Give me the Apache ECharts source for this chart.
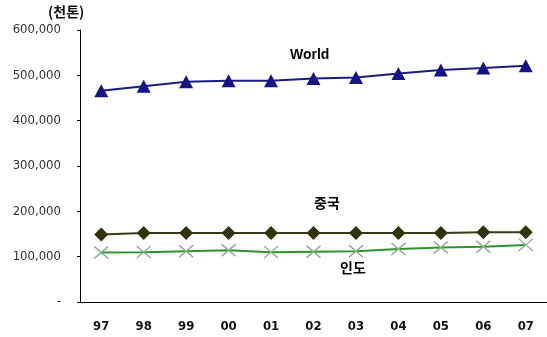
<!DOCTYPE html>
<html><head><meta charset="utf-8">
<script src="https://cdn.jsdelivr.net/npm/echarts@6/dist/echarts.min.js"></script>
<style>html,body{margin:0;padding:0;background:#fff}#c{width:547px;height:337px}</style>
</head><body><div id="c"></div>
<script>
const categories = ['97','98','99','00','01','02','03','04','05','06','07'];
const world = [466000, 476000, 486000, 488000, 488000, 493000, 495000, 504000, 512000, 516000, 521000];
const china = [149000, 152000, 152000, 152000, 152000, 152000, 152000, 152000, 152000, 154000, 154000];
const india = [109000, 110000, 112000, 114000, 110000, 111000, 112000, 117000, 120000, 122000, 126000];
const yTicks = [0, 100000, 200000, 300000, 400000, 500000, 600000];
const unitLabel = '(천톤)';
const seriesNames = ['World', '중국', '인도'];

const chart = echarts.init(document.getElementById('c'));
const numFont = '"Liberation Sans Narrow", "DejaVu Sans Condensed", Arial, sans-serif';
chart.setOption({
  animation: false,
  grid: {left: 80, right: -6, top: 30, bottom: 35},
  xAxis: {
    type: 'category', data: categories, boundaryGap: true,
    axisLine: {lineStyle: {color: '#000', width: 1}},
    axisTick: {inside: true, length: 3, lineStyle: {color: '#000'}},
    axisLabel: {margin: 18, color: '#111', fontSize: 13, fontWeight: 'bold', fontFamily: numFont}
  },
  yAxis: {
    type: 'value', min: yTicks[0], max: yTicks[yTicks.length-1], interval: 100000,
    axisLine: {show: true, lineStyle: {color: '#000', width: 1}},
    axisTick: {show: true, length: 3, lineStyle: {color: '#000'}},
    splitLine: {show: false},
    axisLabel: {margin: 19, color: '#333', fontSize: 13, fontFamily: numFont,
      formatter: v => v === 0 ? '-' : v.toLocaleString('en-US')}
  },
  graphic: [
    {type: 'text', left: 48, top: 5, style: {text: unitLabel, font: 'bold 14px "Noto Sans CJK KR", sans-serif', fill: '#111'}},
    {type: 'text', left: 290, top: 48, style: {text: seriesNames[0], font: 'bold 14px "Liberation Sans", Arial, sans-serif', fill: '#000'}},
    {type: 'text', left: 314, top: 196, style: {text: seriesNames[1], font: 'bold 14px "Noto Sans CJK KR", sans-serif', fill: '#000'}},
    {type: 'text', left: 340, top: 261, style: {text: seriesNames[2], font: 'bold 14px "Noto Sans CJK KR", sans-serif', fill: '#000'}}
  ],
  series: [
    {name: seriesNames[0], type: 'line', data: world, symbol: 'triangle', symbolSize: [14, 13],
      lineStyle: {color: '#1c1c80', width: 2}, itemStyle: {color: '#14148a'}},
    {name: seriesNames[1], type: 'line', data: china, symbol: 'diamond', symbolSize: [14, 14],
      lineStyle: {color: '#3a3a18', width: 2}, itemStyle: {color: '#333308'}},
    {name: seriesNames[2], type: 'line', data: india, symbol: 'path://M0,0L10,10M10,0L0,10', symbolSize: [14, 12],
      lineStyle: {color: '#2a962a', width: 2},
      itemStyle: {color: 'rgba(0,0,0,0)', borderColor: '#8db08d', borderWidth: 1.5}}
  ]
});
</script></body></html>
